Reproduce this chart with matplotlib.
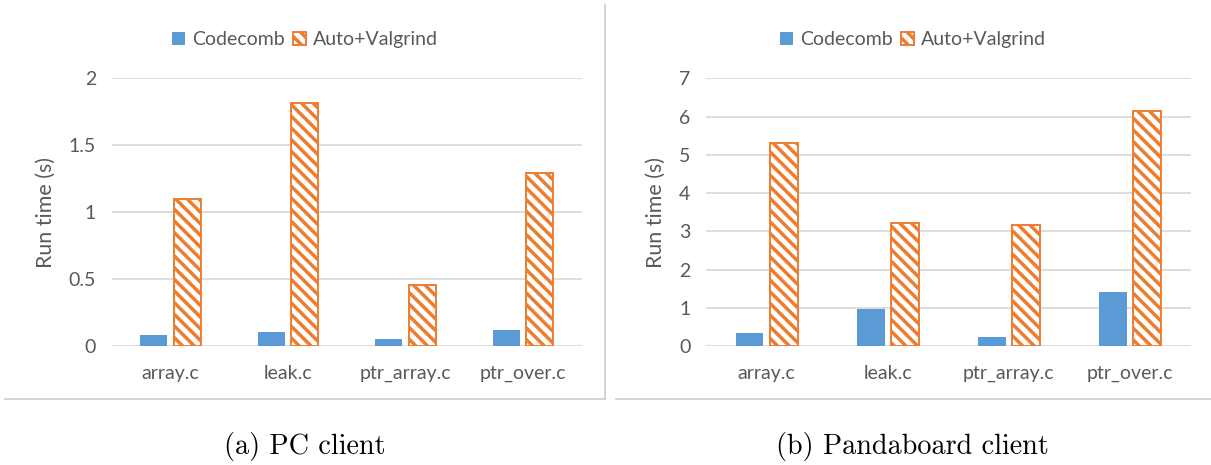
import numpy as np
import matplotlib
matplotlib.use("Agg")
import matplotlib.pyplot as plt
from matplotlib.lines import Line2D
from matplotlib.ticker import FuncFormatter

# values
files = ["array.c", "leak.c", "ptr_array.c", "ptr_over.c"]
series_names = ["Codecomb", "Auto+Valgrind"]

pc_codecomb = [0.08, 0.105, 0.055, 0.12]
pc_valgrind = [1.10, 1.815, 0.455, 1.29]

panda_codecomb = [0.33, 0.98, 0.23, 1.41]
panda_valgrind = [5.30, 3.21, 3.16, 6.15]

pc_ticks = [0, 0.5, 1, 1.5, 2]
panda_ticks = [0, 1, 2, 3, 4, 5, 6, 7]

captions = ["(a) PC client", "(b) Pandaboard client"]

BLUE = "#5B9BD5"
ORANGE = "#ED7D31"
TEXT = "#595959"
GRID = "#D9D9D9"

plt.rcParams["font.family"] = ["Lato", "DejaVu Sans"]
plt.rcParams["hatch.linewidth"] = 1.8
plt.rcParams["hatch.color"] = ORANGE

W, H, DPI = 1211, 465, 140
fig = plt.figure(figsize=(W / DPI, H / DPI), dpi=DPI)

ax_pc = fig.add_axes([111.7 / W, 1 - 346 / H, 470 / W, (346 - 78.3) / H])
ax_pb = fig.add_axes([706 / W, 1 - 346 / H, 484.7 / W, (346 - 78.3) / H])

width = 0.23
offset = 0.141


def draw_panel(ax, codecomb, valgrind, ticks, label_x):
    x = np.arange(len(files))
    b1 = ax.bar(x - offset, codecomb, width, color=BLUE, linewidth=0,
                label=series_names[0], zorder=3)
    b2 = ax.bar(x + offset, valgrind, width, facecolor="white", edgecolor=ORANGE,
                hatch="\\\\\\\\", linewidth=1.0, label=series_names[1], zorder=3)
    ax.set_xlim(-0.5, len(files) - 0.5)
    ax.set_ylim(0, ticks[-1])
    ax.set_yticks(ticks)
    ax.yaxis.set_major_formatter(FuncFormatter(lambda v, p: "%g" % v))
    ax.set_xticks(x)
    ax.set_xticklabels(files)
    ax.tick_params(axis="both", length=0, colors=TEXT, labelsize=10)
    ax.tick_params(axis="y", pad=8)
    ax.tick_params(axis="x", pad=10)
    ax.grid(axis="y", color=GRID, linewidth=0.9, zorder=0)
    ax.set_axisbelow(True)
    for s in ax.spines.values():
        s.set_visible(False)
    ax.set_ylabel("Run time (s)", color=TEXT, fontsize=11)
    ax.yaxis.set_label_coords(label_x, 0.5)
    return b1, b2


h_pc = draw_panel(ax_pc, pc_codecomb, pc_valgrind, pc_ticks, -0.118)
h_pb = draw_panel(ax_pb, panda_codecomb, panda_valgrind, panda_ticks, -0.082)

for hs, cx in [(h_pc, 305), (h_pb, 913)]:
    fig.legend(hs, series_names, loc="center", bbox_to_anchor=(cx / W, 1 - 39.5 / H),
               ncol=2, frameon=False, fontsize=10, labelcolor=TEXT,
               handlelength=0.67, handleheight=0.67, handletextpad=0.36,
               columnspacing=0.45, borderpad=0)

# panel frame lines
frame = "#C8C8C8"
for xs, ys in [((5, 605), (399, 399)), ((605, 605), (5, 399)), ((616, 1211), (399, 399))]:
    fig.add_artist(Line2D([v / W for v in xs], [1 - v / H for v in ys],
                          color=frame, linewidth=0.8))

for cap, cx in zip(captions, [305, 912]):
    fig.text(cx / W, 1 - 446.7 / H, cap, ha="center", va="center",
             fontsize=14.5, family="cmr10", color="black")

fig.savefig("out.png", dpi=DPI)
